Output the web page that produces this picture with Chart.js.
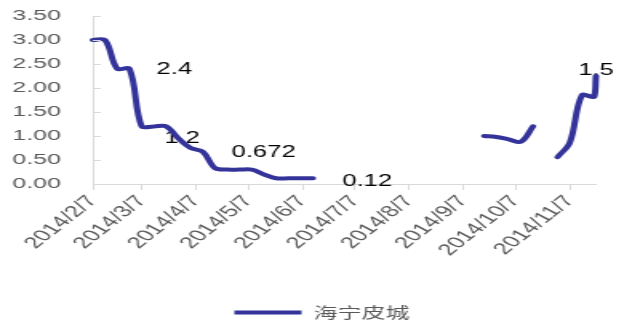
<!DOCTYPE html>
<html>
<head>
<meta charset="utf-8">
<script src="https://cdn.jsdelivr.net/npm/chart.js@4.4.1/dist/chart.umd.min.js"></script>
<style>
  html, body { margin: 0; padding: 0; background: #ffffff; }
</style>
</head>
<body>
<!-- canvas is drawn narrow and stretched sideways to 624px -->
<canvas id="priceChart" width="390" height="325" style="display:block;width:624px;height:325px"></canvas>
<script>

// weekly quotes, null = no quote (line breaks there)
const weekDates = [
    "2014/2/7", "2014/2/14", "2014/2/21", "2014/2/28",
    "2014/3/7", "2014/3/14", "2014/3/21", "2014/3/28",
    "2014/4/4", "2014/4/11", "2014/4/18", "2014/4/25",
    "2014/5/2", "2014/5/9", "2014/5/16", "2014/5/23",
    "2014/5/30", "2014/6/6", "2014/6/13", "2014/6/20",
    "2014/9/19", "2014/9/26", "2014/10/3", "2014/10/10",
    "2014/10/17", "2014/10/24", "2014/10/31", "2014/11/7",
    "2014/11/14", "2014/11/21", "2014/11/22"
];
const priceValues = [
    3.0, 3.0, 2.4, 2.4,
    1.2, 1.2, 1.2, 0.95,
    0.75, 0.672, 0.33, 0.3,
    0.3, 0.3, 0.2, 0.12,
    0.12, 0.12, 0.12, null,
    1.0, 0.98, 0.93, 0.88,
    1.2, null, 0.56, 0.86,
    1.85, 1.82, 2.25
];

// month ticks on the date axis
const monthTicks = [
    "2014/2/7", "2014/3/7", "2014/4/7", "2014/5/7", "2014/6/7",
    "2014/7/7", "2014/8/7", "2014/9/7", "2014/10/7", "2014/11/7"
];
const axisEnd = "2014/11/22";

const seriesName = "海宁皮城";

// value labels and the week they sit next to
const labelTexts = ["2.4", "1.2", "0.672", "0.12", "1.5"];
const labelDates = ["2014/2/28", "2014/3/21", "2014/4/11", "2014/6/13", "2014/11/22"];

const START = Date.UTC(2014, 1, 7);
function dayOf(s) {
    const [y, m, d] = s.split("/").map(Number);
    return (Date.UTC(y, m - 1, d) - START) / 86400000;
}

const points = weekDates.map((d, i) => ({ x: dayOf(d), y: priceValues[i] }));
const tickDays = monthTicks.map(dayOf);

const GREY = "#d9d9d9";
const TEXT = "#595959";
const FONT = "'Liberation Sans', Arial, sans-serif";

// little tick marks on the inner side of the value axis
const innerTicks = {
    id: "innerTicks",
    afterDraw(chart) {
        const { ctx, chartArea, scales } = chart;
        ctx.save();
        ctx.strokeStyle = GREY;
        ctx.lineWidth = 1;
        scales.y.ticks.forEach(t => {
            const y = Math.round(scales.y.getPixelForValue(t.value)) + 0.5;
            ctx.beginPath();
            ctx.moveTo(chartArea.left, y);
            ctx.lineTo(chartArea.left + 5, y);
            ctx.stroke();
        });
        ctx.restore();
    }
};

// legend sits a bit right of centre and low in the canvas
const legendShift = {
    id: "legendShift",
    afterLayout(chart) {
        const lg = chart.legend;
        lg.left += 15;
        lg.right += 15;
        lg.top += 5;
        lg.bottom += 5;
    }
};

// text offsets from the labelled point, in canvas px
const labelOffsets = [[28, 1], [10, 12], [38, 1], [34, 3], [0, -5]];

const valueLabels = {
    id: "valueLabels",
    beforeDatasetsDraw(chart) {
        const { ctx, scales } = chart;
        ctx.save();
        ctx.fillStyle = "#000000";
        ctx.font = "16px " + FONT;
        ctx.textAlign = "center";
        ctx.textBaseline = "middle";
        labelTexts.forEach((txt, i) => {
            const day = dayOf(labelDates[i]);
            const pt = points.find(p => p.x === day);
            const x = scales.x.getPixelForValue(day) + labelOffsets[i][0];
            const y = scales.y.getPixelForValue(pt.y) + labelOffsets[i][1];
            ctx.fillText(txt, x, y);
        });
        ctx.restore();
    }
};

new Chart(document.getElementById("priceChart"), {
    type: "line",
    data: {
        datasets: [{
            label: seriesName,
            data: points,
            borderColor: "#333399",
            backgroundColor: "#333399",
            borderWidth: 4,
            borderCapStyle: "round",
            borderJoinStyle: "round",
            pointRadius: 0,
            pointHoverRadius: 0,
            tension: 0.35,
            spanGaps: false,
            clip: false
        }]
    },
    options: {
        responsive: false,
        animation: false,
        layout: {
            padding: { top: 16, left: 0, right: 17.5, bottom: 0 }
        },
        scales: {
            x: {
                type: "linear",
                min: 0,
                max: dayOf(axisEnd),
                afterBuildTicks: s => { s.ticks = tickDays.map(v => ({ value: v })); },
                afterFit: s => { s.height = 115; s.paddingLeft = 0; s.paddingRight = 0; },
                border: { color: GREY },
                grid: { drawOnChartArea: false, tickLength: 6, color: GREY },
                ticks: {
                    autoSkip: false,
                    minRotation: 51,
                    maxRotation: 51,
                    padding: 2,
                    color: TEXT,
                    font: { family: FONT, size: 16 },
                    callback: (v, i) => monthTicks[i]
                }
            },
            y: {
                min: 0,
                max: 3.5,
                afterFit: s => { s.width = 58; s.paddingTop = 0; s.paddingBottom = 0; },
                border: { color: GREY },
                grid: { drawOnChartArea: false, drawTicks: false },
                ticks: {
                    stepSize: 0.5,
                    padding: 20,
                    color: TEXT,
                    font: { family: FONT, size: 15.5 },
                    callback: v => v.toFixed(2)
                }
            }
        },
        plugins: {
            legend: {
                position: "bottom",
                labels: {
                    usePointStyle: true,
                    pointStyle: "line",
                    pointStyleWidth: 42,
                    padding: 1,
                    color: TEXT,
                    font: { family: "'Noto Sans CJK SC', sans-serif", size: 15 }
                }
            },
            tooltip: { enabled: false }
        }
    },
    plugins: [innerTicks, legendShift, valueLabels]
});
</script>
</body>
</html>
